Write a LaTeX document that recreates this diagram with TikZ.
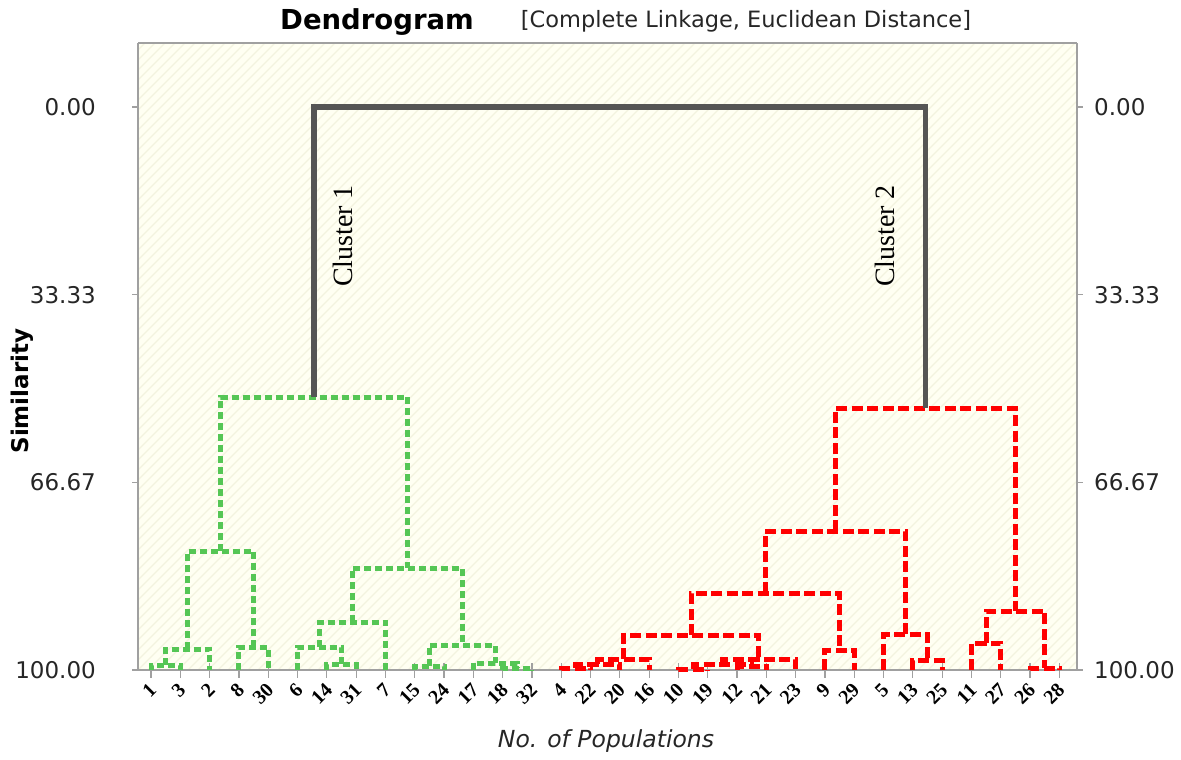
\documentclass[tikz,border=0pt]{standalone}
\usepackage{fontspec}
\setmainfont{DejaVu Sans}
\newfontfamily\tnr{Liberation Serif}
\definecolor{plotbg}{HTML}{FFFFF2}
\definecolor{hatchc}{HTML}{F3F3DF}
\definecolor{axisc}{HTML}{A0A0A0}
\definecolor{grn}{HTML}{55C655}
\definecolor{rd}{HTML}{FF0000}
\definecolor{lnk}{HTML}{555555}
\begin{document}
\begin{tikzpicture}[x=1pt,y=-1pt,
  gline/.style={draw=grn,line width=5pt,dash pattern=on 7pt off 4pt},
  rline/.style={draw=rd,line width=5pt,dash pattern=on 11pt off 4.5pt},
  clink/.style={draw=lnk,line width=5.5pt},
  axisline/.style={draw=axisc,line width=1.2pt},
  ticklab/.style={inner sep=0pt,font=\fontsize{23}{26}\selectfont,text=black!85},
  leaflab/.style={inner sep=0pt,rotate=45,anchor=east,font=\tnr\bfseries\fontsize{20}{22}\selectfont},
  clab/.style={inner sep=0pt,rotate=90,font=\tnr\fontsize{28}{30}\selectfont}]
\useasboundingbox (0,0) rectangle (1181,760);
% plot area
\fill[plotbg] (138,43) rectangle (1077,670);
\begin{scope}
\clip (138,43) rectangle (1077,670);
\foreach \k in {-640,-630,...,940} \draw[hatchc,line width=1.2pt] ({138+\k},670) -- ++(627,-627);
\end{scope}
\draw[axisline] (138,43) -- (1077,43);
\draw[axisline] (138,43) -- (138,670) -- (1077,670) -- (1077,43);
% title
\node[inner sep=0pt,font=\bfseries\fontsize{27.5}{30}\selectfont] (title) at (377,22) {Dendrogram};
\node[inner sep=0pt,font=\fontsize{22.5}{26}\selectfont,text=black!85] (subtitle) at (746,21) {[Complete Linkage, Euclidean Distance]};
% y axis ticks and labels
\foreach \v/\y [count=\j] in {0.00/107,33.33/294.7,66.67/482.3,100.00/670} {
  \draw[axisline] (132,\y) -- (138,\y);
  \draw[axisline] (1077,\y) -- (1083,\y);
  \node[ticklab,anchor=east] (yl\j) at (96,\y) {\v};
  \node[ticklab,anchor=west] (yr\j) at (1094,\y) {\v};
}
\node[inner sep=0pt,rotate=90,font=\bfseries\fontsize{23}{26}\selectfont] (ylab) at (22,391) {Similarity};
\node[inner sep=0pt,font=\itshape\fontsize{23.5}{26}\selectfont,text=black!85] (xlab) at (606,741) {No. of Populations};
% leaves
\foreach \lab [count=\i] in {1,3,2,8,30,6,14,31,7,15,24,17,18,32,4,22,20,16,10,19,12,21,23,9,29,5,13,25,11,27,26,28} {
  \coordinate (L\i) at ({151+29.3*(\i-1)},670);
  \draw[axisline] ({151+29.3*(\i-1)},663) -- ({151+29.3*(\i-1)},678);
  \node[leaflab] (t\i) at ({151+29.3*(\i-1)+2},687) {\lab};
}
% green merge points
\coordinate (g1) at (165.65,665);
\coordinate (g2) at (187.6,649);
\coordinate (g3) at (253.55,647);
\coordinate (g4) at (220.6,551);
\coordinate (g5) at (341.45,664);
\coordinate (g6) at (319.5,647);
\coordinate (g7) at (352.45,622);
\coordinate (g8) at (429.35,666);
\coordinate (g9) at (517.25,668);
\coordinate (g10) at (495.3,663);
\coordinate (g11) at (462.3,645);
\coordinate (g12) at (407.4,568);
\coordinate (g13) at (314.0,397);
% red merge points
\coordinate (r1) at (575.85,668);
\coordinate (r2) at (597.8,664);
\coordinate (r3) at (623.45,659);
\coordinate (r4) at (693.05,669);
\coordinate (r5) at (751.65,666);
\coordinate (r6) at (722.35,664);
\coordinate (r7) at (758.98,659);
\coordinate (r8) at (691.2,635);
\coordinate (r9) at (839.55,650);
\coordinate (r10) at (765.4,593);
\coordinate (r11) at (927.45,660);
\coordinate (r12) at (905.5,634);
\coordinate (r13) at (835.45,531);
\coordinate (r14) at (986.05,643);
\coordinate (r15) at (1044.65,668);
\coordinate (r16) at (1015.35,611);
\coordinate (r17) at (925.4,408);
\coordinate (top) at (620,107);
% green links
\foreach \m/\a/\b in {g1/L1/L2,g2/g1/L3,g3/L4/L5,g4/g2/g3,g5/L7/L8,g6/L6/g5,g7/g6/L9,g8/L10/L11,g9/L13/L14,g10/L12/g9,g11/g8/g10,g12/g7/g11,g13/g4/g12}
  \draw[gline] (\a) |- (\m) -| (\b);
% red links
\foreach \m/\a/\b in {r1/L15/L16,r2/r1/L17,r3/r2/L18,r4/L19/L20,r5/L21/L22,r6/r4/r5,r7/r6/L23,r8/r3/r7,r9/L24/L25,r10/r8/r9,r11/L27/L28,r12/L26/r11,r13/r10/r12,r14/L29/L30,r15/L31/L32,r16/r14/r15,r17/r13/r16}
  \draw[rline] (\a) |- (\m) -| (\b);
% top link
\draw[clink] (g13) |- (top) -| (r17);
% cluster labels
\node[clab] (c1) at (343,236) {Cluster 1};
\node[clab] (c2) at (885,236) {Cluster 2};
\end{tikzpicture}
\end{document}
